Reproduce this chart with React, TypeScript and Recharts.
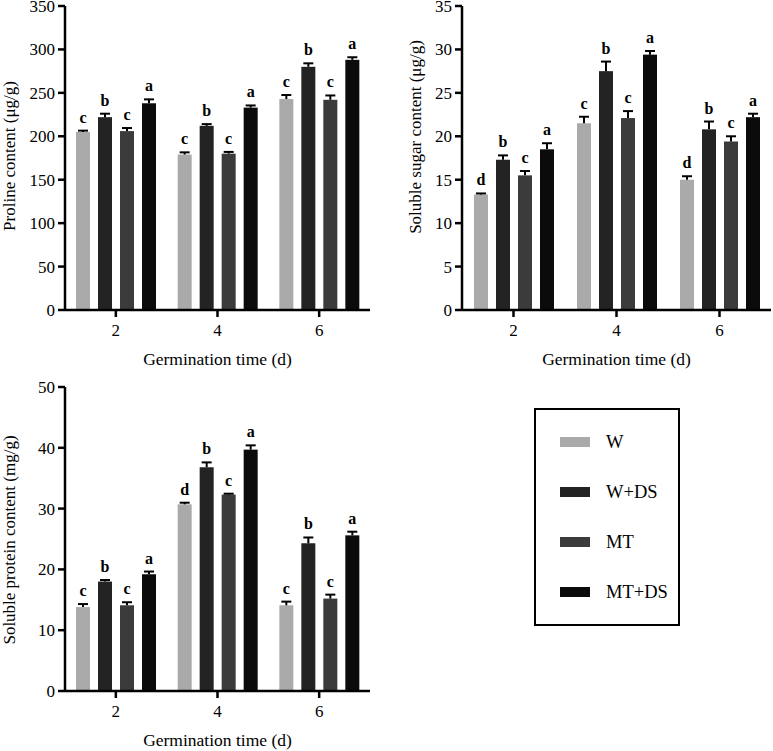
import React from 'react';
import { BarChart, Bar, XAxis, YAxis, Legend } from 'recharts';

const FONT = '"Liberation Serif", "Times New Roman", serif';

const days = ['2', '4', '6'];
const treatments = ['W', 'W+DS', 'MT', 'MT+DS'];
const treatmentColors = ['#aaaaaa', '#232323', '#3b3b3b', '#0b0b0b'];

// rows = germination day (2, 4, 6), columns = treatment (W, W+DS, MT, MT+DS)
const prolineMeans = [
  [205, 222, 206, 238],
  [179, 212, 180, 233],
  [243, 280, 242, 288],
];
const prolineErrors = [
  [1.5, 4, 3.5, 4.5],
  [2.5, 2, 2, 2.5],
  [4.5, 4, 5, 3],
];
const prolineLetters = [
  ['c', 'b', 'c', 'a'],
  ['c', 'b', 'c', 'a'],
  ['c', 'b', 'c', 'a'],
];
const prolineTicks = [0, 50, 100, 150, 200, 250, 300, 350];

const sugarMeans = [
  [13.3, 17.3, 15.5, 18.5],
  [21.5, 27.5, 22.1, 29.4],
  [15.0, 20.8, 19.4, 22.2],
];
const sugarErrors = [
  [0.12, 0.5, 0.5, 0.7],
  [0.75, 1.1, 0.8, 0.42],
  [0.4, 0.9, 0.6, 0.4],
];
const sugarLetters = [
  ['d', 'b', 'c', 'a'],
  ['c', 'b', 'c', 'a'],
  ['d', 'b', 'c', 'a'],
];
const sugarTicks = [0, 5, 10, 15, 20, 25, 30, 35];

const proteinMeans = [
  [13.8, 18.0, 14.1, 19.2],
  [30.7, 36.8, 32.3, 39.7],
  [14.1, 24.3, 15.2, 25.6],
];
const proteinErrors = [
  [0.5, 0.25, 0.5, 0.45],
  [0.27, 0.8, 0.15, 0.7],
  [0.6, 0.95, 0.65, 0.6],
];
const proteinLetters = [
  ['c', 'b', 'c', 'a'],
  ['d', 'b', 'c', 'a'],
  ['c', 'b', 'c', 'a'],
];
const proteinTicks = [0, 10, 20, 30, 40, 50];

const buildRows = (means: number[][], errors: number[][], letters: string[][]) =>
  days.map((day, i) => {
    const row: any = { day };
    treatments.forEach((_, j) => {
      row[`m${j}`] = means[i][j];
      row[`e${j}`] = errors[i][j];
      row[`l${j}`] = letters[i][j];
    });
    return row;
  });

// bar + one-sided error bar + significance letter
const BarWithError = (props: any) => {
  const { x, y, width, height, fill, payload, idx } = props;
  const mean = payload[`m${idx}`];
  const err = payload[`e${idx}`];
  const perUnit = mean ? height / mean : 0;
  const capY = y - err * perUnit;
  const cx = x + width / 2;
  return (
    <g>
      <rect x={x} y={y} width={width} height={height} fill={fill} />
      <line x1={cx} y1={y} x2={cx} y2={capY} stroke="#000" strokeWidth={2} />
      <line x1={cx - 5} x2={cx + 5} y1={capY} y2={capY} stroke="#000" strokeWidth={2} />
      <text
        x={cx}
        y={capY - 8}
        textAnchor="middle"
        fontWeight="bold"
        fontSize={16}
        fontFamily={FONT}
        fill="#000"
      >
        {payload[`l${idx}`]}
      </text>
    </g>
  );
};

const YTitle = ({ viewBox, text, dx, dy }: any) => {
  if (!viewBox) return null;
  const cx = viewBox.x + dx;
  const cy = viewBox.y + viewBox.height / 2 + dy;
  return (
    <text
      x={cx}
      y={cy}
      transform={`rotate(-90 ${cx} ${cy})`}
      textAnchor="middle"
      dominantBaseline="central"
      fontSize={17}
      fontFamily={FONT}
      fill="#000"
    >
      {text}
    </text>
  );
};

const XTitle = ({ viewBox, text }: any) => {
  if (!viewBox) return null;
  return (
    <text
      x={viewBox.x + viewBox.width / 2}
      y={viewBox.y + 49}
      textAnchor="middle"
      dominantBaseline="central"
      fontSize={17.5}
      fontFamily={FONT}
      fill="#000"
    >
      {text}
    </text>
  );
};

const PanelTag = ({ viewBox, text }: any) => {
  if (!viewBox) return null;
  return (
    <text
      x={viewBox.x + 30}
      y={viewBox.y + 22}
      textAnchor="middle"
      dominantBaseline="central"
      fontSize={20}
      fontFamily={FONT}
      fill="#000"
    >
      {text}
    </text>
  );
};

const LegendBox = ({ payload }: any) => {
  const items = [...(payload || [])].sort(
    (a: any, b: any) => treatments.indexOf(a.value) - treatments.indexOf(b.value)
  );
  return (
    <div
      style={{
        width: 146,
        height: 218,
        boxSizing: 'border-box',
        border: '2.5px solid #000',
        paddingTop: 7,
        fontFamily: FONT,
        background: '#fff',
      }}
    >
      {items.map((item: any) => (
        <div key={item.value} style={{ height: 50, display: 'flex', alignItems: 'center' }}>
          <div style={{ width: 30, height: 10, marginLeft: 24, background: item.color }} />
          <span style={{ marginLeft: 16, fontSize: 18.5, color: '#000' }}>{item.value}</span>
        </div>
      ))}
    </div>
  );
};

const axisLine = { stroke: '#000', strokeWidth: 2.5 };
const tickStyle = { fill: '#000', fontSize: 17, fontFamily: FONT };

interface PanelProps {
  rows: any[];
  ticks: number[];
  tag: string;
  yTitle: string;
  titleDx: number;
  titleDy: number;
  width: number;
  height: number;
  margin: { top: number; right: number; bottom: number; left: number };
  yAxisWidth: number;
  xAxisHeight: number;
  withLegend?: boolean;
}

function Panel({
  rows,
  ticks,
  tag,
  yTitle,
  titleDx,
  titleDy,
  width,
  height,
  margin,
  yAxisWidth,
  xAxisHeight,
  withLegend,
}: PanelProps) {
  const yMax = ticks[ticks.length - 1];
  return (
    <BarChart width={width} height={height} data={rows} margin={margin} barSize={14} barGap={8}>
      <XAxis
        dataKey="day"
        height={xAxisHeight}
        axisLine={axisLine}
        tickLine={axisLine}
        tickSize={7}
        tickMargin={7}
        tick={tickStyle}
        label={<XTitle text="Germination time (d)" />}
      />
      <XAxis
        xAxisId="top"
        dataKey="day"
        orientation="top"
        height={0}
        axisLine={axisLine}
        tick={false}
        tickLine={false}
        label={<PanelTag text={tag} />}
      />
      <YAxis
        domain={[0, yMax]}
        ticks={ticks}
        width={yAxisWidth}
        axisLine={axisLine}
        tickLine={axisLine}
        tickSize={7}
        tickMargin={3}
        tick={tickStyle}
        interval={0}
        label={<YTitle text={yTitle} dx={titleDx} dy={titleDy} />}
      />
      <YAxis
        yAxisId="right"
        orientation="right"
        domain={[0, yMax]}
        width={0}
        axisLine={axisLine}
        tick={false}
        tickLine={false}
      />
      {treatments.map((name, j) => (
        <Bar
          key={name}
          name={name}
          dataKey={`m${j}`}
          fill={treatmentColors[j]}
          isAnimationActive={false}
          shape={(p: any) => <BarWithError {...p} idx={j} />}
        />
      ))}
      {withLegend && (
        <Legend
          layout="vertical"
          align="center"
          verticalAlign="middle"
          content={<LegendBox />}
          wrapperStyle={{ left: 534, top: 38, width: 146, height: 218 }}
        />
      )}
    </BarChart>
  );
}

export default function App() {
  return (
    <div
      style={{
        position: 'absolute',
        left: 0,
        top: 0,
        width: 773,
        height: 751,
        background: '#fff',
        fontFamily: FONT,
      }}
    >
      <div style={{ position: 'absolute', left: 0, top: 0 }}>
        <Panel
          rows={buildRows(prolineMeans, prolineErrors, prolineLetters)}
          ticks={prolineTicks}
          tag="A"
          yTitle="Proline content (μg/g)"
          titleDx={9}
          titleDy={-2}
          width={385}
          height={380}
          margin={{ top: 6, right: 15, bottom: 0, left: 0 }}
          yAxisWidth={65}
          xAxisHeight={70}
        />
      </div>
      <div style={{ position: 'absolute', left: 385, top: 0 }}>
        <Panel
          rows={buildRows(sugarMeans, sugarErrors, sugarLetters)}
          ticks={sugarTicks}
          tag="B"
          yTitle="Soluble sugar content (μg/g)"
          titleDx={30}
          titleDy={-21}
          width={388}
          height={380}
          margin={{ top: 6, right: 2, bottom: 0, left: 0 }}
          yAxisWidth={77}
          xAxisHeight={70}
        />
      </div>
      <div style={{ position: 'absolute', left: 0, top: 370 }}>
        <Panel
          rows={buildRows(proteinMeans, proteinErrors, proteinLetters)}
          ticks={proteinTicks}
          tag="C"
          yTitle="Soluble protein content (mg/g)"
          titleDx={9}
          titleDy={1}
          width={773}
          height={381}
          margin={{ top: 17, right: 403, bottom: 0, left: 0 }}
          yAxisWidth={65}
          xAxisHeight={60}
          withLegend
        />
      </div>
    </div>
  );
}
